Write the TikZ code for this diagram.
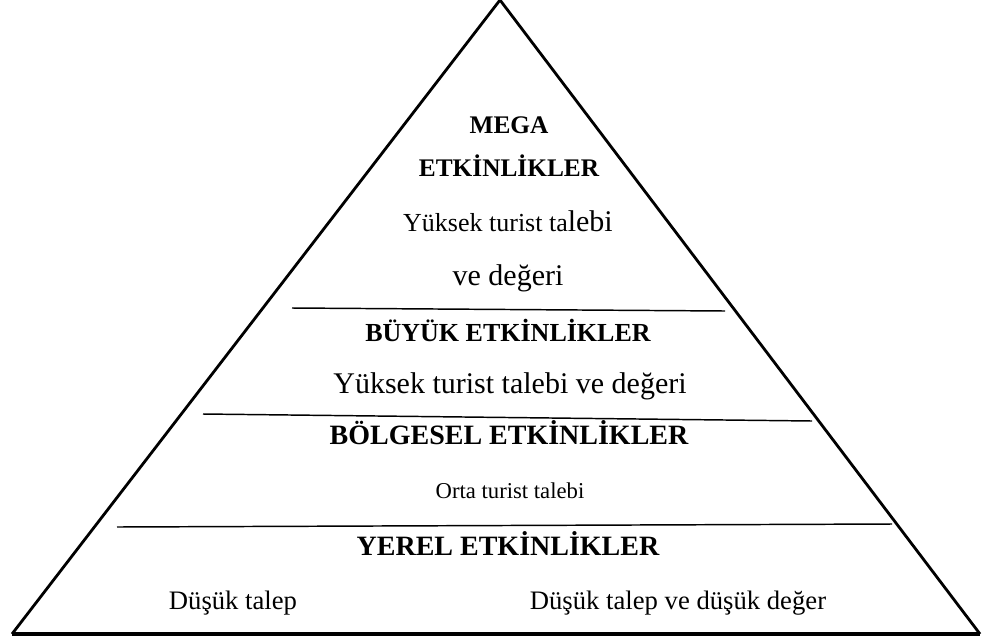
\documentclass[tikz,border=0pt]{standalone}
\usepackage{fontspec}
\setmainfont{Liberation Serif}
\usetikzlibrary{positioning}

\begin{document}
\begin{tikzpicture}[x=0.75pt,y=-0.75pt,
    level/.style={font=\bfseries\fontsize{21}{25}\selectfont, anchor=mid},
    small level/.style={font=\bfseries\fontsize{19}{23}\selectfont, anchor=mid},
    demand/.style={font=\fontsize{20}{24}\selectfont, anchor=mid},
    divider/.style={line width=1.1pt}]
    \useasboundingbox (0,0) rectangle (982,643);
    % pyramid
    \coordinate (apex) at (500,0);
    \coordinate (baseL) at (12,634);
    \coordinate (baseR) at (980,634);
    \draw[line width=2.1pt, line join=miter] (baseL) -- (apex) -- (baseR);
    \draw[line width=2.8pt] (baseL) -- (baseR);
    % dividers
    \coordinate (d1L) at (292,308); \coordinate (d1R) at (725,311);
    \coordinate (d2L) at (203,414); \coordinate (d2R) at (812,421);
    \coordinate (d3L) at (117,527); \coordinate (d3R) at (892,524);
    \draw[divider] (d1L) -- (d1R);
    \draw[divider] (d2L) -- (d2R);
    \draw[divider] (d3L) -- (d3R);
    % mega
    \node[small level] (mega) at (509,130) {MEGA};
    \node[small level] (megaB) at (509,173) {ETKİNLİKLER};
    \node[demand, font=\fontsize{22.5}{27}\selectfont] (megaD) at (508,228) {{\fontsize{19.5}{23}\selectfont Yüksek turist ta}lebi};
    \node[demand, font=\fontsize{22.5}{27}\selectfont] (megaV) at (508,282) {ve değeri};
    % buyuk
    \node[small level, font=\bfseries\fontsize{19.5}{23}\selectfont] (buyuk) at (508,338) {BÜYÜK ETKİNLİKLER};
    \node[demand, font=\fontsize{22.5}{27}\selectfont] (buyukD) at (510,390) {Yüksek turist talebi ve değeri};
    % bolgesel
    \node[level] (bolge) at (509,441) {BÖLGESEL ETKİNLİKLER};
    \node[demand, font=\fontsize{17}{20}\selectfont] (bolgeD) at (510,495) {Orta turist talebi};
    % yerel
    \node[level] (yerel) at (508,552) {YEREL ETKİNLİKLER};
    \node[demand] (yerelL) at (233,606) {Düşük talep};
    \node[demand] (yerelR) at (678,606) {Düşük talep ve düşük değer};
\end{tikzpicture}
\end{document}
